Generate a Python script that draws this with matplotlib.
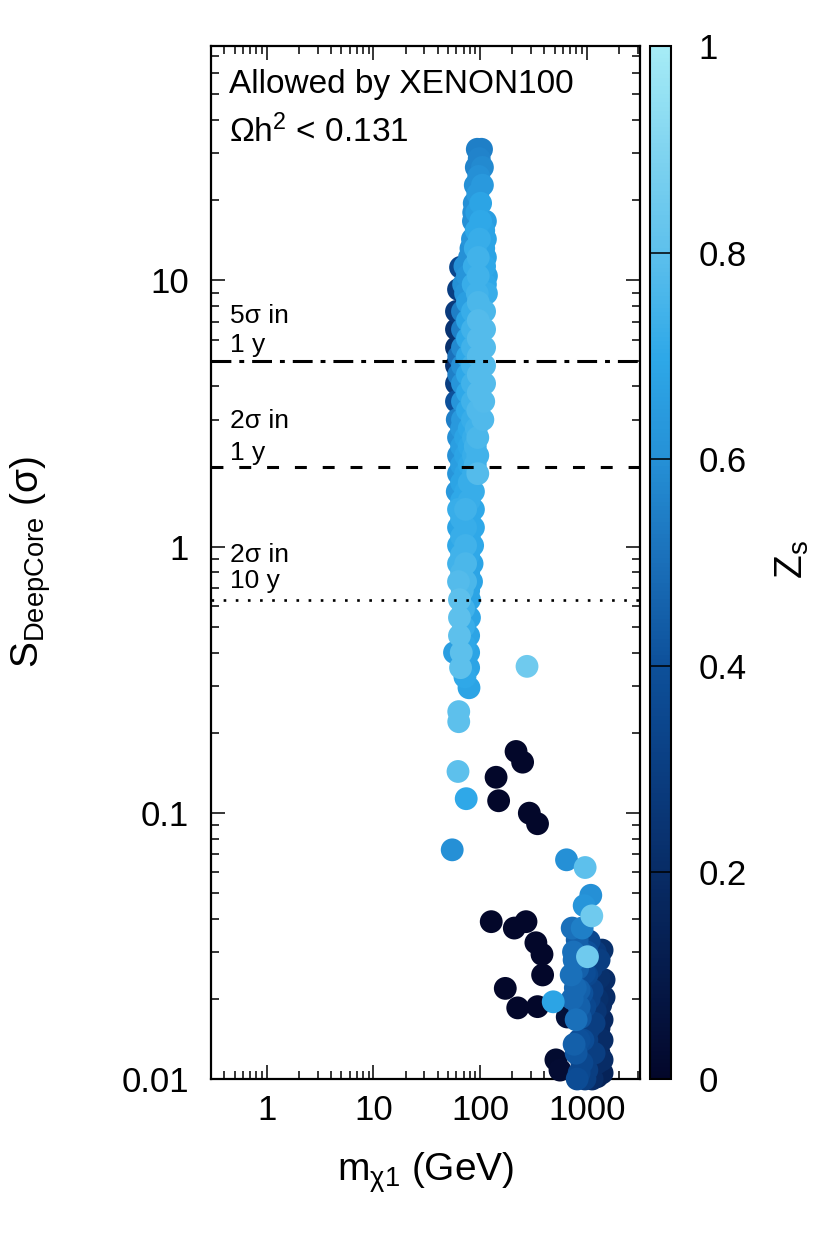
import numpy as np
import matplotlib
matplotlib.use('Agg')
import matplotlib.pyplot as plt
from matplotlib.colors import LinearSegmentedColormap

plt.rcParams['font.family'] = ['Liberation Sans', 'DejaVu Sans']
plt.rcParams['mathtext.fontset'] = 'custom'
plt.rcParams['mathtext.rm'] = 'Liberation Sans'
plt.rcParams['mathtext.it'] = 'Liberation Sans:italic'
plt.rcParams['mathtext.sf'] = 'Liberation Sans'

# main band, m ~ 55-120 GeV
band_m = [94, 103,
          92, 105,
          90, 105,
          88, 101,
          86.5, 101, 112,
          84.7, 98.5, 112,
          79.4, 96, 112,
          65.5,
          76, 96, 114.5,
          62.7,
          73, 94, 114.5,
          60, 68.3, 84.7, 110,
          60, 68.3, 84.7, 110,
          60, 68.3, 84.7, 110,
          60, 68.3, 84.7, 110,
          60, 68.3, 84.7, 110,
          60, 68.3, 84.7, 108,
          61, 68.3, 84.7, 106,
          62.7, 73, 86.5, 95,
          62.7, 73, 86.5, 95,
          62.7, 73, 86.5, 95,
          61, 73, 86.5,
          62.7, 73, 86.5,
          62.7, 73, 86.5,
          62.7, 73, 85,
          62.7, 73, 84,
          62.7, 73, 83,
          64, 79.4,
          64, 79.4,
          64, 78,
          57.5, 66.5, 78,
          65.5, 78,
          78.6]
band_s = [31.1, 31.1,
          26.6, 26.6,
          22.8, 22.8,
          19.5, 19.5,
          16.7, 16.7, 16.7,
          14.3, 14.3, 14.3,
          12.2, 12.2, 12.2,
          11.2,
          10.4, 10.4, 10.4,
          9.25,
          8.94, 8.94, 8.94,
          7.65, 7.65, 7.65, 7.65,
          6.55, 6.55, 6.55, 6.55,
          5.60, 5.60, 5.60, 5.60,
          4.79, 4.79, 4.79, 4.79,
          4.10, 4.10, 4.10, 4.10,
          3.51, 3.51, 3.51, 3.51,
          3.00, 3.00, 3.00, 3.00,
          2.57, 2.57, 2.57, 2.57,
          2.20, 2.20, 2.20, 2.20,
          1.88, 1.88, 1.88, 1.88,
          1.61, 1.61, 1.61,
          1.38, 1.38, 1.38,
          1.18, 1.18, 1.18,
          1.01, 1.01, 1.01,
          0.863, 0.863, 0.863,
          0.739, 0.739, 0.739,
          0.632, 0.632,
          0.541, 0.541,
          0.463, 0.463,
          0.400, 0.400, 0.400,
          0.351, 0.351,
          0.295]
band_z = [0.55, 0.55,
          0.56, 0.58,
          0.60, 0.64,
          0.60, 0.68,
          0.60, 0.70, 0.66,
          0.62, 0.72, 0.68,
          0.60, 0.74, 0.68,
          0.35,
          0.62, 0.74, 0.68,
          0.30,
          0.62, 0.74, 0.72,
          0.28, 0.55, 0.72, 0.76,
          0.24, 0.55, 0.74, 0.78,
          0.22, 0.58, 0.74, 0.78,
          0.25, 0.60, 0.74, 0.78,
          0.30, 0.62, 0.74, 0.78,
          0.40, 0.62, 0.74, 0.78,
          0.55, 0.64, 0.72, 0.77,
          0.60, 0.68, 0.72, 0.76,
          0.60, 0.68, 0.72, 0.74,
          0.62, 0.68, 0.72, 0.78,
          0.64, 0.70, 0.72,
          0.72, 0.74, 0.70,
          0.68, 0.72, 0.70,
          0.70, 0.74, 0.70,
          0.74, 0.76, 0.68,
          0.78, 0.76, 0.68,
          0.80, 0.68,
          0.80, 0.68,
          0.80, 0.68,
          0.66, 0.80, 0.68,
          0.80, 0.68,
          0.68]

# in-between points of the band
fill_m = [98, 97, 95, 93, 87, 92, 108, 90, 82, 108, 88, 72, 110, 86, 70, 112,
          76, 96, 76, 96, 76, 96, 76, 96, 63, 76, 96, 63, 76, 96, 76, 95,
          67, 79, 92, 67, 79, 90, 67, 79, 90, 67, 79, 67, 79, 67, 79, 67, 79,
          67, 78, 67, 78, 68, 78, 70, 70, 71, 72]
fill_s = [28.7, 24.6, 21.1, 18.0, 18.0, 15.4, 15.4, 13.2, 13.2, 13.2, 11.3,
          11.3, 11.3, 9.66, 9.66, 9.66, 8.27, 8.27, 7.07, 7.07, 6.05, 6.05,
          5.18, 5.18, 5.18, 4.43, 4.43, 4.43, 3.79, 3.79, 3.25, 3.25,
          2.78, 2.78, 2.78, 2.38, 2.38, 2.38, 2.03, 2.03, 2.03, 1.74, 1.74,
          1.49, 1.49, 1.27, 1.27, 1.09, 1.09, 0.933, 0.933, 0.798, 0.798,
          0.683, 0.683, 0.585, 0.500, 0.428, 0.324]
fill_z = [0.56, 0.60, 0.64, 0.66, 0.60, 0.70, 0.68, 0.72, 0.60, 0.68, 0.72,
          0.60, 0.70, 0.72, 0.60, 0.70, 0.66, 0.76, 0.68, 0.78, 0.70, 0.78,
          0.70, 0.78, 0.50, 0.70, 0.78, 0.55, 0.70, 0.78, 0.70, 0.77,
          0.64, 0.70, 0.74, 0.66, 0.70, 0.74, 0.66, 0.70, 0.74, 0.68, 0.72,
          0.70, 0.72, 0.72, 0.70, 0.72, 0.70, 0.74, 0.70, 0.76, 0.68,
          0.76, 0.68, 0.74, 0.72, 0.70, 0.70]

# heavy cluster, m ~ 0.7-1.5 TeV
heavy_m = [729, 904, 812, 1390, 1303, 713, 1451, 847, 1121, 1451, 847, 794,
           1390, 1170, 847, 1390, 794, 1170, 1390, 847, 1390, 812, 1121, 960,
           1000, 1000, 1000, 960, 750, 730, 1250, 1250, 900,
           760, 780, 820, 880, 900, 950, 1050, 1100, 1200, 1300, 1350, 1200,
           1050, 870, 920, 1050, 1300, 1100, 1300, 760, 1000, 1250]
heavy_s = [0.0369, 0.0369, 0.0333, 0.0305, 0.0280, 0.0246, 0.0236, 0.0216,
           0.0216, 0.0203, 0.0187, 0.0167, 0.0167, 0.0162, 0.0140, 0.0140,
           0.0125, 0.0125, 0.0118, 0.01054, 0.01054, 0.010, 0.010, 0.010,
           0.0246, 0.0300, 0.0140, 0.0187, 0.0300, 0.0200, 0.0200, 0.0115,
           0.0115,
           0.028, 0.022, 0.026, 0.030, 0.021, 0.025, 0.033, 0.026, 0.030,
           0.024, 0.019, 0.018, 0.020, 0.017, 0.014, 0.0155, 0.0155, 0.0125,
           0.0125, 0.0135, 0.0108, 0.0102]
heavy_z = [0.50, 0.55, 0.45, 0.22, 0.30, 0.50, 0.20, 0.45, 0.32, 0.20, 0.45,
           0.50, 0.18, 0.30, 0.40, 0.20, 0.42, 0.30, 0.20, 0.35, 0.15, 0.38,
           0.20, 0.30, 0.35, 0.40, 0.30, 0.35, 0.50, 0.48, 0.22, 0.20, 0.35,
           0.50, 0.48, 0.45, 0.45, 0.40, 0.38, 0.35, 0.30, 0.28, 0.22, 0.20,
           0.25, 0.32, 0.42, 0.38, 0.30, 0.18, 0.25, 0.15, 0.45, 0.30, 0.15]

# scattered points
iso_m = [275, 63, 63, 62, 74, 54.7, 217, 250, 141, 149, 289, 345, 645, 964,
         1089, 944, 1113, 127, 209, 269, 333, 380, 385, 172, 225, 345, 484,
         1014, 513, 655, 560]
iso_s = [0.355, 0.240, 0.220, 0.143, 0.113, 0.0726, 0.170, 0.155, 0.136,
         0.111, 0.0997, 0.091, 0.0666, 0.0623, 0.049, 0.0448, 0.041, 0.039,
         0.0369, 0.039, 0.0325, 0.0294, 0.0246, 0.0219, 0.0185, 0.0187,
         0.0195, 0.0288, 0.0118, 0.0171, 0.0108]
iso_z = [0.85, 0.80, 0.80, 0.80, 0.70, 0.60, 0.0, 0.0, 0.0, 0.0, 0.0, 0.0,
         0.60, 0.80, 0.60, 0.62, 0.85, 0.0, 0.0, 0.0, 0.0, 0.0, 0.0, 0.0, 0.0,
         0.0, 0.68, 0.85, 0.02, 0.05, 0.03]

# sensitivity lines
s_5sig_1y = 5.0
s_2sig_1y = 2.0
s_2sig_10y = 0.632

cb_ticks = [0, 0.2, 0.4, 0.6, 0.8, 1]
cb_labels = ['0', '0.2', '0.4', '0.6', '0.8', '1']

cmap = LinearSegmentedColormap.from_list('zs', [
    (0.0, '#03072a'), (0.1, '#051a4a'), (0.2, '#082c66'), (0.3, '#0a3e82'),
    (0.4, '#0d509a'), (0.5, '#1a6fb9'), (0.6, '#2590d6'), (0.7, '#2ea8e8'),
    (0.8, '#5dc0ec'), (0.9, '#80d4f0'), (1.0, '#a6ecf6')])

m = np.array(band_m + fill_m + heavy_m + iso_m)
s = np.array(band_s + fill_s + heavy_s + iso_s)
z = np.array(band_z + fill_z + heavy_z + iso_z)
order = np.argsort(z, kind='stable')

fig = plt.figure(figsize=(8.3, 12.46), dpi=100)
ax = fig.add_axes([211/830, 167/1246, 429/830, 1033/1246])
cax = fig.add_axes([650/830, 167/1246, 21/830, 1033/1246])

sc = ax.scatter(m[order], s[order], c=z[order], cmap=cmap, vmin=0, vmax=1,
                s=270, linewidths=0, zorder=3, clip_on=False)

ax.axhline(s_5sig_1y, color='k', lw=2.2, ls=(0, (6.5, 2.6, 1.6, 2.6)), zorder=4)
ax.axhline(s_2sig_1y, color='k', lw=2.2, ls=(0, (3.9, 5.2)), zorder=4)
ax.axhline(s_2sig_10y, color='k', lw=1.9, ls=(0, (1, 3.6)), zorder=4)

ax.set_xscale('log')
ax.set_yscale('log')
ax.set_xlim(0.3, 3150)
ax.set_ylim(0.01, 76)
ax.set_xticks([1, 10, 100, 1000], ['1', '10', '100', '1000'])
ax.set_yticks([0.01, 0.1, 1, 10], ['0.01', '0.1', '1', '10'])
ax.tick_params(which='both', direction='in', top=True, right=True, width=1.1)
ax.tick_params(which='major', length=10, labelsize=25)
ax.tick_params(which='minor', length=5.8)
ax.tick_params(axis='x', which='major', pad=11)
ax.tick_params(axis='y', which='major', pad=16)
for sp in ax.spines.values():
    sp.set_linewidth(1.6)

ax.set_xlabel('m$_{\\mathrm{χ1}}$ (GeV)', fontsize=28)
ax.xaxis.set_label_coords(0.5, -0.069)
ax.xaxis.label.set_va('top')
ax.set_ylabel('S$_{\\mathrm{DeepCore}}$ (σ)', fontsize=28)
ax.yaxis.set_label_coords(-0.42, 0.5)
ax.yaxis.label.set_va('center')

ax.text(0.042, 0.9545, 'Allowed by XENON100', transform=ax.transAxes,
        fontsize=24, va='baseline')
ax.text(0.042, 0.907, 'Ωh$^2$ < 0.131', transform=ax.transAxes,
        fontsize=24, va='baseline')

for yy, txt in [(0.7318, '5σ in'), (0.7038, '1 y'), (0.6302, '2σ in'),
                (0.5992, '1 y'), (0.5005, '2σ in'), (0.4753, '10 y')]:
    ax.text(0.044, yy, txt, transform=ax.transAxes, fontsize=19, va='baseline')

cb = fig.colorbar(sc, cax=cax)
cb.set_ticks(cb_ticks)
cb.set_ticklabels(cb_labels)
cax.tick_params(direction='in', length=15, width=1.1, labelsize=25, pad=20)
cax.minorticks_off()
cb.outline.set_linewidth(1.5)
fig.text(792/830, 1 - 560/1246, 'Z$_{\\mathrm{s}}$', rotation=90, fontsize=28,
         ha='center', va='center')

fig.savefig('out.png', dpi=100)
